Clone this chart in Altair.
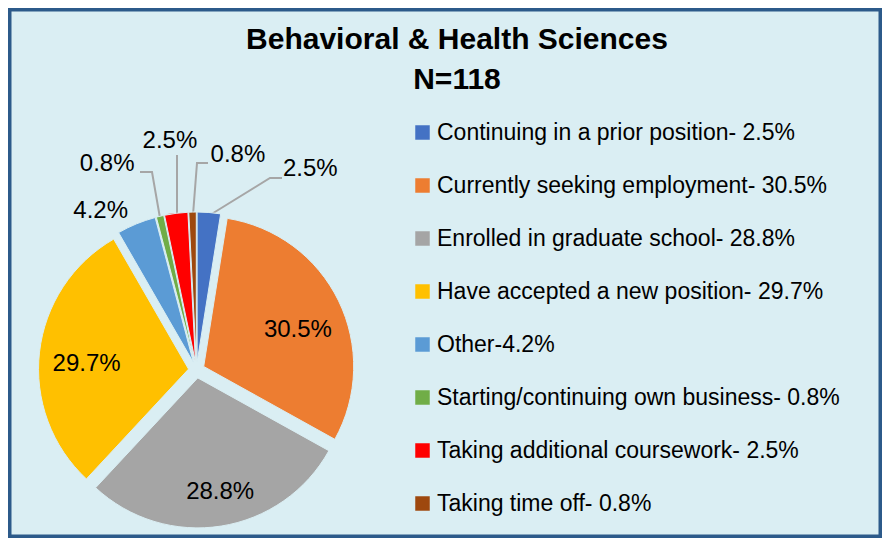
import altair as alt
import pandas as pd

# ---------------- data ----------------
categories = [
    "Continuing in a prior position",
    "Currently seeking employment",
    "Enrolled in graduate school",
    "Have accepted a new position",
    "Other",
    "Starting/continuing own business",
    "Taking additional coursework",
    "Taking time off",
]
percents = [2.5, 30.5, 28.8, 29.7, 4.2, 0.8, 2.5, 0.8]
legend_labels = [
    "Continuing in a prior position- 2.5%",
    "Currently seeking employment- 30.5%",
    "Enrolled in graduate school- 28.8%",
    "Have accepted a new position- 29.7%",
    "Other-4.2%",
    "Starting/continuing own business- 0.8%",
    "Taking additional coursework- 2.5%",
    "Taking time off- 0.8%",
]
slice_labels = ["2.5%", "30.5%", "28.8%", "29.7%", "4.2%", "0.8%", "2.5%", "0.8%"]
colors = ["#4472C4", "#ED7D31", "#A5A5A5", "#FFC000", "#5B9BD5", "#70AD47", "#FF0000", "#9E480E"]
title_lines = ["Behavioral & Health Sciences", "N=118"]

# ---------------- layout ----------------
# label placement (polar, relative to pie centre): radius px, angle deg clockwise from 12 o'clock
label_radius = [231, 109, 124, 110, 186, 225, 231, 219]
label_angle = [29.5, 68.5, 169, 273, 329, 336.6, 353.4, 10.9]
# leader lines for the small slices (points relative to pie centre)
leader_slice = [0, 0, 0, 5, 5, 5, 6, 6, 7, 7, 7]
leader_step = [0, 1, 2, 0, 1, 2, 0, 1, 0, 1, 2]
leader_dx = [85.5, 73.5, 13.5, -56.5, -44.5, -36.5, -19.5, -19.5, 11.5, 0.5, -3.5]
leader_dy = [-192, -192, -155, -198, -198, -152, -215, -155, -207, -207, -155]

W, H = 874, 530
CX, CY = 188.5, 362
R = 150
EXPLODE = 8
BG = "#DAEEF3"
BORDER = "#2C5A8A"
FONT = "'Liberation Sans Narrow', 'Arial Narrow', 'Liberation Sans', Arial, sans-serif"

df = pd.DataFrame({
    "category": categories,
    "pct": percents,
    "legend": legend_labels,
    "label": slice_labels,
    "order": list(range(len(categories))),
    "lr": label_radius,
    "la": label_angle,
})

base = (
    alt.Chart(df)
    .transform_window(cum="sum(pct)", sort=[alt.SortField("order")], frame=[None, 0])
    .transform_joinaggregate(total="sum(pct)")
    .transform_calculate(
        a0="(datum.cum - datum.pct) / datum.total * 2 * PI",
        a1="datum.cum / datum.total * 2 * PI",
    )
    .transform_calculate(mid="(datum.a0 + datum.a1) / 2")
    .transform_calculate(
        px=f"{CX} + {EXPLODE} * sin(datum.mid)",
        py=f"{CY} - {EXPLODE} * cos(datum.mid)",
        tx=f"{CX} + datum.lr * sin(datum.la * PI / 180)",
        ty=f"{CY} - datum.lr * cos(datum.la * PI / 180)",
    )
)

pie = base.mark_arc(outerRadius=R, stroke=BG, strokeWidth=1).encode(
    theta=alt.Theta("a0:Q", scale=None, stack=None),
    theta2="a1:Q",
    x=alt.X("px:Q", scale=None),
    y=alt.Y("py:Q", scale=None),
    color=alt.Color(
        "legend:N",
        scale=alt.Scale(domain=legend_labels, range=colors),
        legend=alt.Legend(
            orient="none",
            legendX=403,
            legendY=113,
            title=None,
            direction="vertical",
            symbolType="square",
            symbolSize=210,
            symbolStrokeWidth=0,
            labelFontSize=23,
            labelFont=FONT,
            labelColor="#000000",
            labelLimit=0,
            labelOffset=3,
            rowPadding=29,
            padding=0,
        ),
    ),
)

labels = base.mark_text(fontSize=24, font=FONT, color="#000000", align="center", baseline="middle").encode(
    x=alt.X("tx:Q", scale=None),
    y=alt.Y("ty:Q", scale=None),
    text="label:N",
)

leader_df = pd.DataFrame({
    "slice": leader_slice,
    "step": leader_step,
    "dx": leader_dx,
    "dy": leader_dy,
})
leaders = (
    alt.Chart(leader_df)
    .transform_calculate(lx=f"{CX} + datum.dx", ly=f"{CY} + datum.dy")
    .mark_line(color="#A6A6A6", strokeWidth=2)
    .encode(
        x=alt.X("lx:Q", scale=None),
        y=alt.Y("ly:Q", scale=None),
        detail="slice:N",
        order="step:Q",
    )
)

title_df = pd.DataFrame({"t": title_lines, "i": [0, 1]})
title = (
    alt.Chart(title_df)
    .transform_calculate(ty="41 + 40 * datum.i")
    .mark_text(fontSize=30, font=FONT, fontWeight="bold", color="#000000", align="center", baseline="alphabetic")
    .encode(x=alt.value(449), y=alt.Y("ty:Q", scale=None), text="t:N")
)

border = (
    alt.Chart(pd.DataFrame({"a": [0]}))
    .mark_rect(fillOpacity=0, stroke=BORDER, strokeWidth=3.5)
    .encode(x=alt.value(1.75), x2=alt.value(W - 1.75), y=alt.value(1.75), y2=alt.value(H - 1.75))
)

chart = (
    alt.layer(border, leaders, pie, labels, title)
    .properties(
        width=W,
        height=H,
        padding=0,
        background=BG,
        autosize=alt.AutoSizeParams(type="fit", contains="padding"),
    )
    .configure_view(strokeWidth=0)
)

chart.save("out.html", embed_options={"renderer": "svg", "actions": False})
